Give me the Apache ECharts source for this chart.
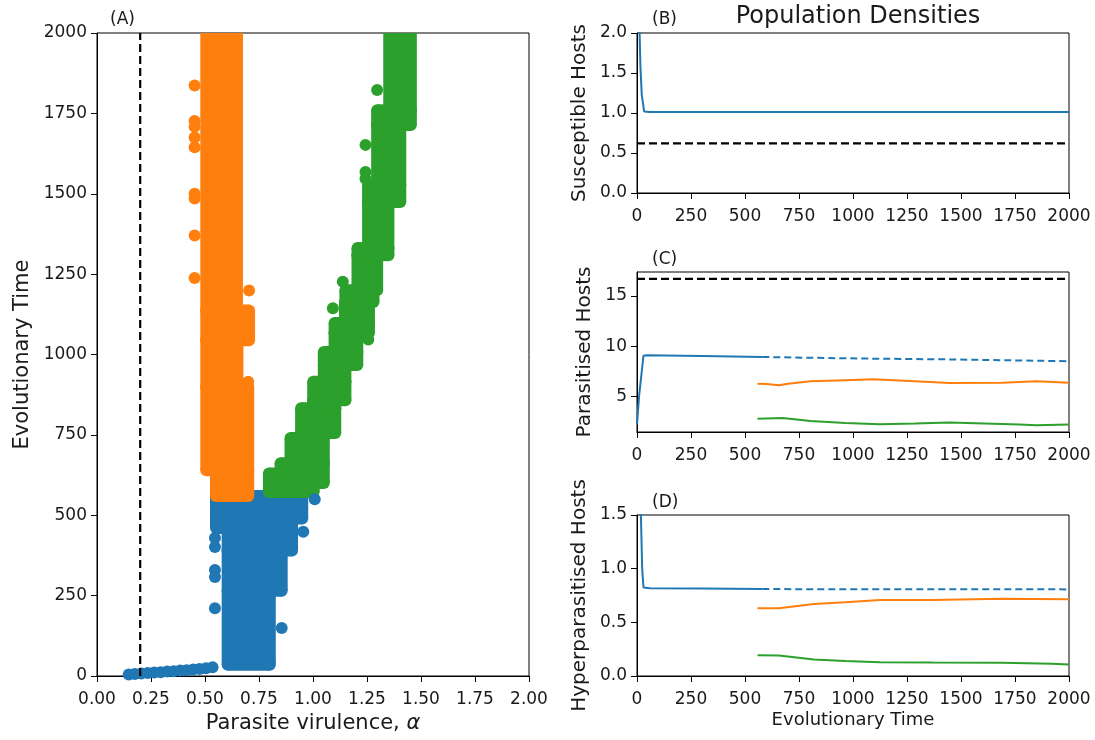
<!DOCTYPE html>
<html>
<head>
<meta charset="utf-8">
<script src="https://cdn.jsdelivr.net/npm/echarts@6/dist/echarts.min.js"></script>
<style>
  html, body { margin: 0; padding: 0; background: #fff; }
  #chart { width: 1095px; height: 740px; }
</style>
</head>
<body>
<div id="chart"></div>
<script>
// panel A: dense trait bands, rows are [tFrom, tTo, alphaLow, alphaHigh]
var blueBands = [
  [35, 265, 0.605, 0.800],
  [265, 390, 0.605, 0.855],
  [390, 460, 0.605, 0.903],
  [460, 490, 0.551, 0.903],
  [490, 560, 0.551, 0.950]
]
var orangeBands = [
  [560, 640, 0.551, 0.700],
  [640, 900, 0.506, 0.700],
  [900, 1044, 0.506, 0.650],
  [1044, 1137, 0.506, 0.704],
  [1137, 2010, 0.506, 0.648]
]
var greenBands = [
  [572, 630, 0.796, 1.003],
  [600, 662, 0.850, 1.050],
  [662, 740, 0.896, 1.050],
  [740, 756, 0.945, 1.050],
  [756, 833, 0.945, 1.103],
  [833, 858, 1.001, 1.103],
  [858, 915, 1.001, 1.150],
  [915, 967, 1.050, 1.150],
  [967, 1008, 1.050, 1.205],
  [1008, 1067, 1.100, 1.205],
  [1067, 1098, 1.100, 1.259],
  [1098, 1163, 1.148, 1.259],
  [1163, 1200, 1.150, 1.280],
  [1200, 1309, 1.206, 1.297],
  [1309, 1331, 1.206, 1.349],
  [1331, 1474, 1.255, 1.349],
  [1474, 1527, 1.255, 1.404],
  [1527, 1714, 1.297, 1.404],
  [1714, 1760, 1.297, 1.453],
  [1760, 2010, 1.353, 1.453]
]
// panel A: single points [alpha, time]
var blueDots = [
  [0.147, 5], [0.175, 6], [0.205, 8], [0.235, 9], [0.265, 11], [0.295, 12], [0.325, 14],
  [0.355, 15], [0.385, 17], [0.415, 18], [0.445, 20], [0.475, 22], [0.505, 24], [0.535, 27],
  [0.546, 429], [0.546, 401], [0.546, 330], [0.546, 308], [0.546, 211],
  [0.955, 449], [0.855, 149], [1.008, 550]
]
var orangeDots = [
  [0.704, 1199], [0.700, 915],
  [0.452, 1837], [0.452, 1726], [0.452, 1708], [0.452, 1675], [0.452, 1645],
  [0.452, 1500], [0.452, 1485], [0.452, 1370], [0.452, 1238]
]
var greenDots = [
  [1.256, 1047], [1.092, 1144], [1.138, 1226], [1.243, 1652],
  [1.243, 1568], [1.243, 1547], [1.297, 1823]
]
var alphaThreshold = 0.2

// panels B-D: [time, density]
var susBlue = [[0, 3.0], [12, 2.0], [16, 1.57], [22, 1.23], [33, 1.02], [60, 1.012], [500, 1.012], [1000, 1.012], [1500, 1.012], [2000, 1.012]]
var susThreshold = 0.62
var parBlue = [[0, 2.2], [10, 5.1], [30, 9.05], [45, 9.1], [300, 9.02], [580, 8.92]]
var parBlueLate = [[580, 8.92], [770, 8.85], [1090, 8.75], [1400, 8.69], [1720, 8.59], [2000, 8.49]]
var parOrange = [[558, 6.26], [600, 6.22], [657, 6.10], [700, 6.25], [803, 6.5], [964, 6.6], [1093, 6.69], [1286, 6.5], [1447, 6.33], [1689, 6.36], [1850, 6.5], [2000, 6.36]]
var parGreen = [[558, 2.77], [674, 2.84], [803, 2.54], [964, 2.34], [1125, 2.21], [1286, 2.28], [1447, 2.38], [1608, 2.28], [1770, 2.18], [1850, 2.11], [2000, 2.18]]
var parThreshold = 16.7
var hypBlue = [[0, 2.5], [18, 1.5], [24, 1.0], [30, 0.825], [60, 0.818], [300, 0.816], [580, 0.81]]
var hypBlueLate = [[580, 0.81], [1000, 0.808], [1500, 0.808], [2000, 0.807]]
var hypOrange = [[558, 0.631], [657, 0.631], [819, 0.671], [964, 0.687], [1125, 0.708], [1367, 0.708], [1689, 0.72], [2000, 0.714]]
var hypGreen = [[558, 0.194], [657, 0.19], [819, 0.154], [964, 0.139], [1125, 0.129], [1367, 0.126], [1689, 0.123], [1923, 0.114], [2000, 0.108]]

var BLUE = '#1f77b4'
var ORANGE = '#ff7f0e'
var GREEN = '#2ca02c'
var TEXT = '#1a1a1a'
var FONT = 'DejaVu Sans'
var DOT = 12

// a band is what a dense cloud of dots looks like: the rectangle grown by one dot radius
function bandItem (params, api) {
  var a = api.coord([api.value(2), api.value(0)])
  var b = api.coord([api.value(3), api.value(1)])
  var r = DOT / 2
  var w = b[0] - a[0]
  var h = a[1] - b[1]
  var style = { fill: api.visual('color') }
  var corners = [[a[0], a[1]], [b[0], a[1]], [a[0], b[1]], [b[0], b[1]]]
  var children = [
    { type: 'rect', shape: { x: a[0] - r, y: b[1], width: w + 2 * r, height: h }, style: style },
    { type: 'rect', shape: { x: a[0], y: b[1] - r, width: w, height: h + 2 * r }, style: style }
  ]
  corners.forEach(function (c) {
    children.push({ type: 'circle', shape: { cx: c[0], cy: c[1], r: r }, style: style })
  })
  return { type: 'group', children: children }
}

function bandSeries (data, color) {
  return {
    type: 'custom', xAxisIndex: 0, yAxisIndex: 0, clip: true,
    dimensions: ['t0', 't1', 'lo', 'hi'],
    encode: { x: [2, 3], y: [0, 1] },
    itemStyle: { color: color },
    renderItem: bandItem,
    data: data
  }
}

function dotSeries (data, color) {
  return {
    type: 'scatter', xAxisIndex: 0, yAxisIndex: 0, clip: true,
    symbolSize: DOT, itemStyle: { color: color, opacity: 1 },
    data: data
  }
}

function lineSeries (idx, data, color, dashed) {
  return {
    type: 'line', xAxisIndex: idx, yAxisIndex: idx, clip: true,
    showSymbol: false, symbol: 'none',
    lineStyle: { color: color, width: dashed === 'black' ? 2.2 : 2, type: dashed === 'black' ? [8, 4] : (dashed ? [7, 4] : 'solid') },
    data: data
  }
}

function axisBase (extra) {
  var base = {
    type: 'value',
    axisLine: { show: true, onZero: false, lineStyle: { color: '#000', width: 1 } },
    axisTick: { show: true, inside: false, length: 6, lineStyle: { color: '#000' } },
    axisLabel: { color: TEXT, fontFamily: FONT, fontSize: 17, margin: 15, formatter: function (v) { return String(v) } },
    splitLine: { show: false },
    nameTextStyle: { color: TEXT, fontFamily: FONT, fontSize: 20 }
  }
  return Object.assign(base, extra)
}

function yLabel (digits) {
  return { color: TEXT, fontFamily: FONT, fontSize: 17, margin: 10, formatter: function (v) { return digits ? v.toFixed(digits) : String(v) } }
}

var gridBox = { show: true, borderColor: '#000', borderWidth: 1, backgroundColor: 'transparent' }
var letterStyle = { fontFamily: FONT, fontSize: 17, fontWeight: 'normal', color: TEXT }

var myCharts = echarts.init(document.getElementById('chart'), null, { renderer: 'canvas' })
myCharts.setOption({
  animation: false,
  title: [
    { text: '(A)', left: 105, top: 6, textStyle: letterStyle },
    { text: '(B)', left: 647, top: 6, textStyle: letterStyle },
    { text: '(C)', left: 647, top: 246, textStyle: letterStyle },
    { text: '(D)', left: 647, top: 489, textStyle: letterStyle },
    { text: 'Population Densities', left: 853, top: 0, textAlign: 'center', textStyle: { fontFamily: FONT, fontSize: 24, fontWeight: 'normal', color: TEXT } }
  ],
  grid: [
    Object.assign({ left: 97, top: 33, width: 432, height: 643 }, gridBox),
    Object.assign({ left: 637, top: 33, width: 432, height: 160 }, gridBox),
    Object.assign({ left: 637, top: 272, width: 432, height: 160 }, gridBox),
    Object.assign({ left: 637, top: 515, width: 432, height: 161 }, gridBox)
  ],
  xAxis: [
    axisBase({
      gridIndex: 0, min: 0, max: 2, interval: 0.25,
      name: 'Parasite virulence, {i|α}', nameLocation: 'middle', nameGap: 33,
      nameTextStyle: { color: TEXT, fontFamily: FONT, fontSize: 21, rich: { i: { fontFamily: FONT, fontSize: 21, fontStyle: 'italic', color: TEXT } } },
      axisLabel: { color: TEXT, fontFamily: FONT, fontSize: 17, margin: 15, formatter: function (v) { return v.toFixed(2) } }
    }),
    axisBase({ gridIndex: 1, min: 0, max: 2000, interval: 250 }),
    axisBase({ gridIndex: 2, min: 0, max: 2000, interval: 250 }),
    axisBase({
      gridIndex: 3, min: 0, max: 2000, interval: 250,
      name: 'Evolutionary Time', nameLocation: 'middle', nameGap: 35,
      nameTextStyle: { color: TEXT, fontFamily: FONT, fontSize: 18 }
    })
  ],
  yAxis: [
    axisBase({
      gridIndex: 0, min: 0, max: 2000, interval: 250,
      name: 'Evolutionary Time', nameLocation: 'middle', nameGap: 64,
      nameTextStyle: { color: TEXT, fontFamily: FONT, fontSize: 21 },
      axisLabel: yLabel(0)
    }),
    axisBase({
      gridIndex: 1, min: 0, max: 2, interval: 0.5,
      name: 'Susceptible Hosts', nameLocation: 'middle', nameGap: 47,
      axisLabel: yLabel(1)
    }),
    axisBase({
      gridIndex: 2, min: 1.44, max: 17.39,
      name: 'Parasitised Hosts', nameLocation: 'middle', nameGap: 42,
      axisTick: { show: true, inside: false, length: 6, lineStyle: { color: '#000' }, customValues: [5, 10, 15] },
      axisLabel: Object.assign(yLabel(0), { customValues: [5, 10, 15] })
    }),
    axisBase({
      gridIndex: 3, min: 0, max: 1.5, interval: 0.5,
      name: 'Hyperparasitised Hosts', nameLocation: 'middle', nameGap: 47,
      axisLabel: yLabel(1)
    })
  ],
  series: [
    bandSeries(blueBands, BLUE),
    dotSeries(blueDots, BLUE),
    bandSeries(orangeBands, ORANGE),
    dotSeries(orangeDots, ORANGE),
    bandSeries(greenBands, GREEN),
    dotSeries(greenDots, GREEN),
    lineSeries(0, [[alphaThreshold, 0], [alphaThreshold, 2000]], '#000', 'black'),

    lineSeries(1, susBlue, BLUE, false),
    lineSeries(1, [[0, susThreshold], [2000, susThreshold]], '#000', 'black'),

    lineSeries(2, parBlue, BLUE, false),
    lineSeries(2, parBlueLate, BLUE, true),
    lineSeries(2, parOrange, ORANGE, false),
    lineSeries(2, parGreen, GREEN, false),
    lineSeries(2, [[0, parThreshold], [2000, parThreshold]], '#000', 'black'),

    lineSeries(3, hypBlue, BLUE, false),
    lineSeries(3, hypBlueLate, BLUE, true),
    lineSeries(3, hypOrange, ORANGE, false),
    lineSeries(3, hypGreen, GREEN, false)
  ]
})
window.addEventListener('resize', function () {
  myCharts.resize()
})
</script>
</body>
</html>
